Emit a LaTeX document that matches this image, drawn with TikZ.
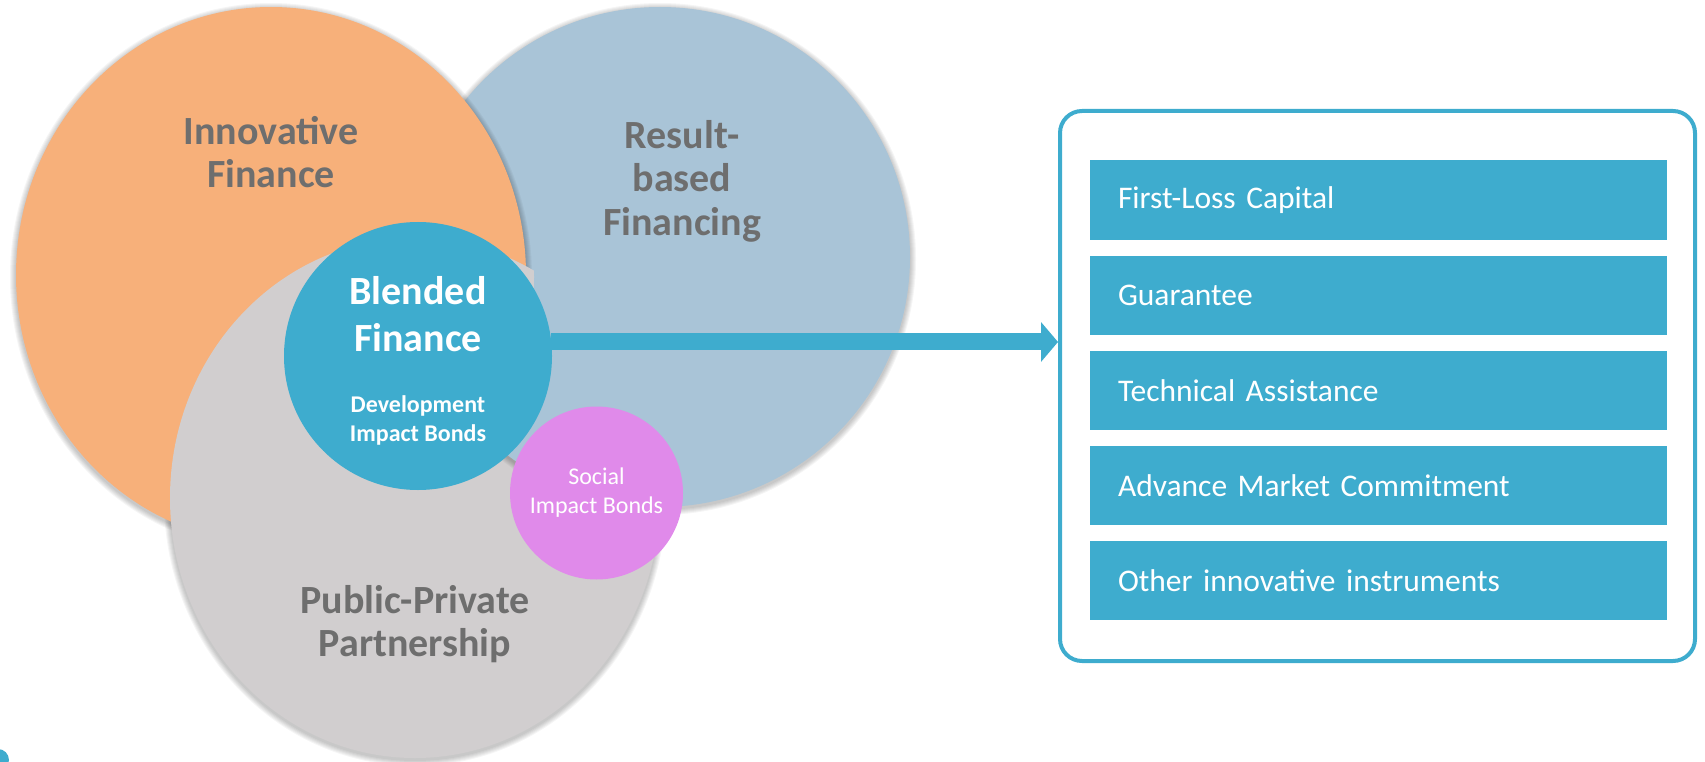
\documentclass[tikz,border=0pt]{standalone}
\usepackage{fontspec}
\setmainfont{Carlito}
\usetikzlibrary{positioning,arrows.meta}

\definecolor{orangefin}{HTML}{F7B07A}
\definecolor{bluefin}{HTML}{A9C4D7}
\definecolor{grayfin}{HTML}{D1CECF}
\definecolor{tealfin}{HTML}{3EACCE}
\definecolor{pinkfin}{HTML}{E08AEA}
\definecolor{labelgray}{HTML}{6E6E6E}

\newcommand\bigbold{\fontsize{40}{47}\selectfont\bfseries}
\newcommand\smallbold{\fontsize{24}{28.5}\selectfont\bfseries}

\tikzset{
  setlabel/.style={text=labelgray, align=center, font=\fontsize{40}{43.5}\selectfont\bfseries},
  instbar/.style={fill=tealfin, text=white, minimum height=79pt, text width=521pt,
    inner xsep=28pt, align=left, font=\fontsize{31.5}{36}\selectfont},
}

\begin{document}
\begin{tikzpicture}[x=1pt,y=-1pt,node distance=15.8pt]
          \useasboundingbox (0,0) rectangle (1705,762);
          % overlapping sets, each with a soft shadow
          \foreach \cx/\cy/\rx/\ry/\col in {415/498/245/260/grayfin,
              660/257/250/250/bluefin, 271/275/255/268/orangefin}{
            \foreach \s in {1,...,6}
              \fill[black,opacity=0.04] (\cx,\cy+2) ellipse [x radius=\rx+\s, y radius=\ry+\s];
            \fill[\col] (\cx,\cy) ellipse [x radius=\rx, y radius=\ry];
          }
          % public-private lies over innovative finance
          \begin{scope}
            \clip (271,277) ellipse [x radius=263, y radius=276];
            \fill[grayfin] (415,498) ellipse [x radius=245, y radius=260];
          \end{scope}
          \node[setlabel] (innov) at (271,152) {Innovative\\Finance};
          \node[setlabel] (result) at (682,181) {Result-\\based\\Financing};
          \node[setlabel] (ppp) at (415,624) {Public-Private\\Partnership};
          \node[circle, fill=tealfin, text=white, align=center, minimum size=268pt,
            font=\smallbold] (blend) at (418,356)
            {\bigbold\rule{0pt}{38pt}Blended\\[18.5pt]\bigbold Finance\\[32.5pt]Development\\Impact Bonds};
          \node[circle, fill=pinkfin, text=white, align=center, minimum size=173pt,
            font=\fontsize{24}{29}\selectfont] (sib) at (596.5,493) {Social\\Impact Bonds};
          \node[draw=tealfin, line width=4pt, rounded corners=22pt,
            minimum width=635pt, minimum height=550pt] (instr) at (1377.5,386) {};
          \node[instbar] (flc) at (1378.5,200) {First-Loss Capital};
          \node[instbar, below=of flc] (guar) {Guarantee};
          \node[instbar, below=of guar] (ta) {Technical Assistance};
          \node[instbar, below=of ta] (amc) {Advance Market Commitment};
          \node[instbar, below=of amc] (other) {Other innovative instruments};
          \draw[tealfin, line width=17pt, -{Triangle[length=17pt,width=39pt]}]
            (blend.6) -- (blend.6 -| instr.west);
          \fill[tealfin] (-2,760) circle [radius=11];
        \end{tikzpicture}
\end{document}
